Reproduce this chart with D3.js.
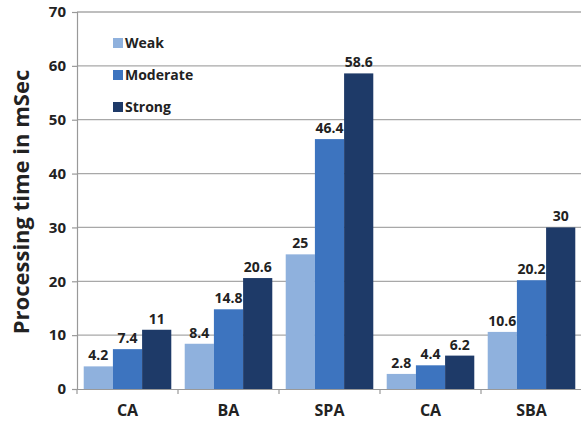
<!DOCTYPE html>
<html>
<head>
<meta charset="utf-8">
<script src="https://cdn.jsdelivr.net/npm/d3@7"></script>
<style>
  html, body { margin: 0; padding: 0; background: #fff; }
  svg text { font-family: "Open Sans", "DejaVu Sans", sans-serif; font-weight: bold; fill: #222; }
</style>
</head>
<body>
<svg id="chart" width="581" height="424"></svg>
<script>
// Processing time per method, grouped by signal strength
const categories = ["CA", "BA", "SPA", "CA", "SBA"];
const seriesNames = ["Weak", "Moderate", "Strong"];
const weak = [4.2, 8.4, 25, 2.8, 10.6];
const moderate = [7.4, 14.8, 46.4, 4.4, 20.2];
const strong = [11, 20.6, 58.6, 6.2, 30];
const yTicks = [0, 10, 20, 30, 40, 50, 60, 70];
const colors = ["#8fb1dd", "#3d74bf", "#1e3a68"];

const series = [weak, moderate, strong];

const svg = d3.select("#chart");
const margin = { left: 77, right: 0, top: 12, bottom: 35 };
const width = 582, height = 424;

const x0 = d3.scaleBand()
  .domain(categories.map((_, i) => i))
  .range([margin.left, width])
  .paddingInner(0)
  .paddingOuter(0);

const x1 = d3.scaleBand()
  .domain(seriesNames)
  .range([0, x0.bandwidth()])
  .paddingInner(0)
  .paddingOuter(0.23);

const y = d3.scaleLinear()
  .domain([0, 70])
  .range([389, margin.top]);

// horizontal gridlines
svg.append("g")
  .selectAll("line")
  .data(yTicks.slice(1))
  .join("line")
  .attr("x1", margin.left)
  .attr("x2", width)
  .attr("y1", d => y(d))
  .attr("y2", d => y(d))
  .attr("stroke", "#a8a8a8")
  .attr("stroke-width", 1.3);

// y axis
const yAxis = svg.append("g")
  .attr("transform", `translate(${margin.left},0)`)
  .call(d3.axisLeft(y).tickValues(yTicks).tickSize(5).tickPadding(6));
yAxis.select(".domain").attr("stroke", "#999").attr("stroke-width", 1.2);
yAxis.selectAll(".tick line").attr("stroke", "#999").attr("stroke-width", 1.2);
yAxis.selectAll(".tick text")
  .attr("font-size", 15)
  .style("font-family", "'Open Sans', sans-serif")
  .style("font-weight", "bold")
  .attr("fill", "#222");

// bars
const groups = svg.append("g")
  .selectAll("g")
  .data(categories.map((c, i) => i))
  .join("g")
  .attr("transform", i => `translate(${x0(i)},0)`);

groups.selectAll("rect")
  .data(i => seriesNames.map((s, k) => ({ s, k, v: series[k][i] })))
  .join("rect")
  .attr("x", d => x1(d.s))
  .attr("width", x1.bandwidth())
  .attr("y", d => y(d.v))
  .attr("height", d => y(0) - y(d.v))
  .attr("fill", d => colors[d.k]);

groups.selectAll("text.val")
  .data(i => seriesNames.map((s, k) => ({ s, k, v: series[k][i] })))
  .join("text")
  .attr("class", "val")
  .attr("x", d => x1(d.s) + x1.bandwidth() / 2)
  .attr("y", d => y(d.v) - 6)
  .attr("text-anchor", "middle")
  .attr("font-size", 14)
  .text(d => d.v);

// x axis
const xAxis = svg.append("g")
  .attr("transform", `translate(0,${y(0)})`)
  .call(d3.axisBottom(x0).tickFormat(i => categories[i]).tickSize(0).tickPadding(16));
xAxis.select(".domain").attr("stroke", "#999").attr("stroke-width", 1.2);
xAxis.selectAll(".tick text")
  .attr("font-size", 16)
  .style("font-family", "'Open Sans', sans-serif")
  .style("font-weight", "bold")
  .attr("fill", "#222");

// category separator ticks
svg.append("g")
  .selectAll("line")
  .data(categories.map((_, i) => i).concat([categories.length]))
  .join("line")
  .attr("x1", i => i < categories.length ? x0(i) : width)
  .attr("x2", i => i < categories.length ? x0(i) : width)
  .attr("y1", y(0))
  .attr("y2", y(0) + 5)
  .attr("stroke", "#999")
  .attr("stroke-width", 1.2);

// y axis title
svg.append("text")
  .attr("transform", `translate(29,202) rotate(-90)`)
  .attr("text-anchor", "middle")
  .attr("font-size", 22)
  .text("Processing time in mSec");

// legend
const legend = svg.append("g")
  .selectAll("g")
  .data(seriesNames)
  .join("g")
  .attr("transform", (d, k) => `translate(113,${43 + k * 32})`);

legend.append("rect")
  .attr("x", 0)
  .attr("y", -5)
  .attr("width", 10)
  .attr("height", 10)
  .attr("fill", (d, k) => colors[k]);

legend.append("text")
  .attr("x", 12)
  .attr("y", 5)
  .attr("font-size", 14)
  .text(d => d);
</script>
</body>
</html>
